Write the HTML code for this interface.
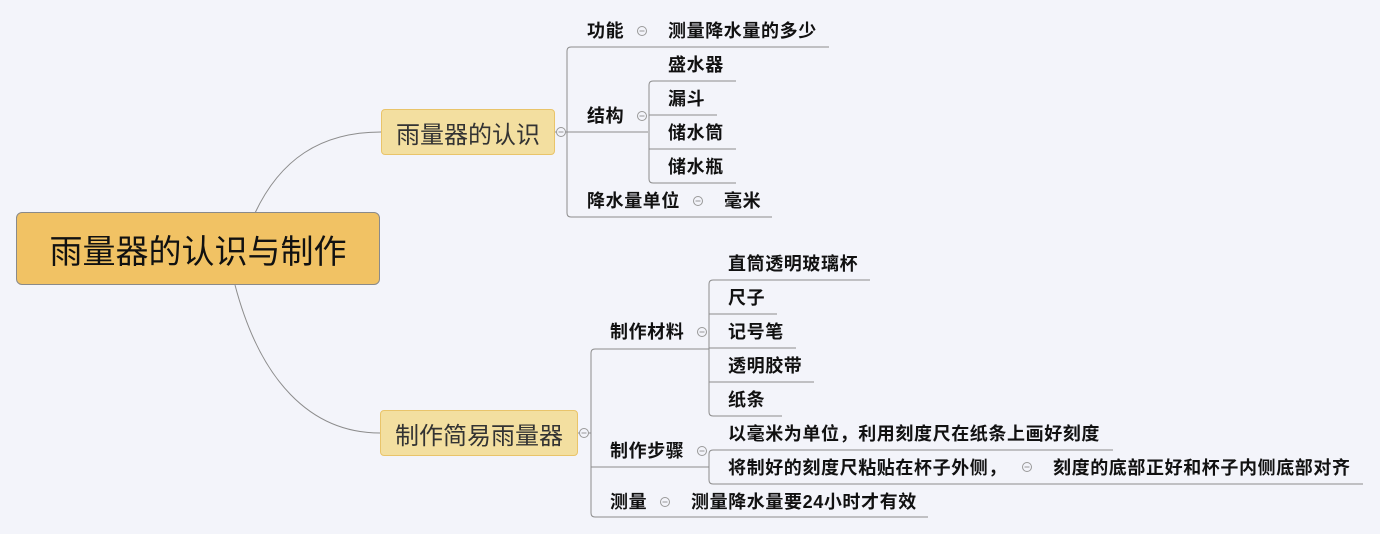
<!DOCTYPE html>
<html><head><meta charset="utf-8">
<style>
html,body{margin:0;padding:0;}
body{width:1380px;height:534px;background:#f3f4fa;position:relative;overflow:hidden;font-family:"Liberation Sans","Noto Sans CJK SC",sans-serif;color:#111;}
.t{position:absolute;font-size:18px;line-height:20px;white-space:nowrap;font-weight:bold;letter-spacing:0.6px;}
.box{position:absolute;box-sizing:border-box;display:flex;align-items:center;justify-content:center;white-space:nowrap;}
svg{position:absolute;left:0;top:0;}
</style></head><body>
<svg width="1380" height="534" fill="none" stroke="#8c8c8c" stroke-width="1">
<path d="M255 213 C 280 160, 320 132, 381 132"/>
<path d="M235 285 C 260 380, 310 433, 380 433"/>
<path d="M555 132 H648"/>
<path d="M829 47 H571 Q567 47 567 51 V213 Q567 217 571 217 H772"/>
<path d="M736 81 H653 Q649 81 649 85 V179 Q649 183 653 183 H736"/>
<path d="M649 115 H717"/>
<path d="M649 149 H736"/>
<path d="M578 433 H591"/>
<path d="M709 349 H595 Q591 349 591 353 V513 Q591 517 595 517 H928"/>
<path d="M591 467 H709"/>
<path d="M870 280 H713 Q709 280 709 284 V412 Q709 416 713 416 H782"/>
<path d="M709 314 H777"/>
<path d="M709 348 H796"/>
<path d="M709 382 H814"/>
<path d="M1113 450 H713 Q709 450 709 454 V480 Q709 484 713 484 H1363"/>
<g stroke="#999" fill="#f3f4fa">
<circle cx="561" cy="132" r="4.5"/><circle cx="584" cy="433" r="4.5"/>
<circle cx="642" cy="31" r="4.5"/><circle cx="642" cy="116" r="4.5"/><circle cx="698" cy="201" r="4.5"/>
<circle cx="702" cy="332" r="4.5"/><circle cx="702" cy="451" r="4.5"/><circle cx="665" cy="502" r="4.5"/>
<circle cx="1027" cy="467" r="4.5"/>
</g>
<g stroke="#999">
<path d="M558.5 132h5M581.5 433h5M639.5 31h5M639.5 116h5M695.5 201h5M699.5 332h5M699.5 451h5M662.5 502h5M1024.5 467h5"/>
</g>
</svg>
<div class="box" style="left:16px;top:212px;width:364px;height:73px;background:#f1c264;border:1px solid #8a8a8a;border-radius:6px;font-size:33px;">雨量器的认识与制作</div>
<div class="box" style="left:381px;top:109px;width:174px;height:46px;background:#f3dfa0;border:1px solid #e9c46a;border-radius:4px;font-size:24px;color:#333;">雨量器的认识</div>
<div class="box" style="left:380px;top:410px;width:198px;height:46px;background:#f3dfa0;border:1px solid #e9c46a;border-radius:4px;font-size:24px;color:#333;">制作简易雨量器</div>

<div class="t" style="left:587px;top:21px">功能</div>
<div class="t" style="left:668px;top:21px">测量降水量的多少</div>
<div class="t" style="left:587px;top:106px">结构</div>
<div class="t" style="left:668px;top:55px">盛水器</div>
<div class="t" style="left:668px;top:89px">漏斗</div>
<div class="t" style="left:668px;top:123px">储水筒</div>
<div class="t" style="left:668px;top:157px">储水瓶</div>
<div class="t" style="left:587px;top:191px">降水量单位</div>
<div class="t" style="left:724px;top:191px">毫米</div>

<div class="t" style="left:610px;top:322px">制作材料</div>
<div class="t" style="left:728px;top:254px">直筒透明玻璃杯</div>
<div class="t" style="left:728px;top:288px">尺子</div>
<div class="t" style="left:728px;top:322px">记号笔</div>
<div class="t" style="left:728px;top:356px">透明胶带</div>
<div class="t" style="left:728px;top:390px">纸条</div>
<div class="t" style="left:610px;top:441px">制作步骤</div>
<div class="t" style="left:728px;top:424px">以毫米为单位，利用刻度尺在纸条上画好刻度</div>
<div class="t" style="left:728px;top:458px">将制好的刻度尺粘贴在杯子外侧，</div>
<div class="t" style="left:1053px;top:458px">刻度的底部正好和杯子内侧底部对齐</div>
<div class="t" style="left:610px;top:492px">测量</div>
<div class="t" style="left:691px;top:492px">测量降水量要24小时才有效</div>
</body></html>
